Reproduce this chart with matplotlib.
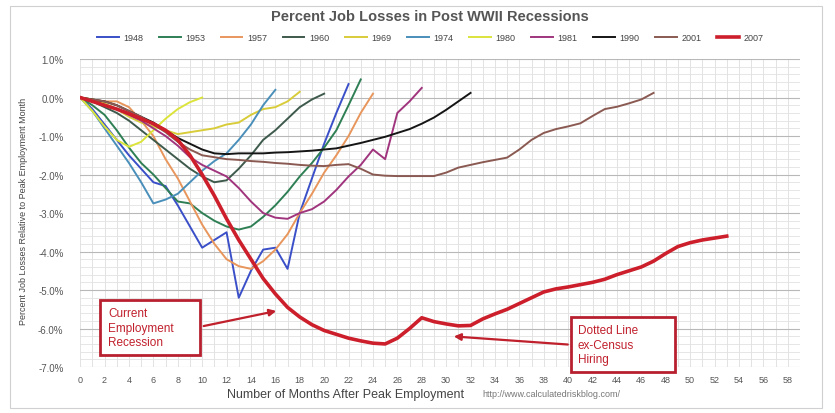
import matplotlib.pyplot as plt
from matplotlib.patches import Rectangle
from matplotlib.ticker import MultipleLocator, FuncFormatter

plt.rcParams['font.family'] = ['Liberation Sans', 'DejaVu Sans']

# percent change in payroll employment vs. the peak month, one list per recession
r1948 = [0, -0.3, -0.7, -1.1, -1.5, -1.85, -2.2, -2.3, -2.8, -3.35, -3.9, -3.7,
         -3.5, -5.2, -4.5, -3.95, -3.9, -4.45, -3.0, -2.1, -1.2, -0.4, 0.35]
r1953 = [0, -0.2, -0.45, -0.85, -1.3, -1.7, -2.0, -2.35, -2.7, -2.75, -3.0, -3.2,
         -3.35, -3.43, -3.35, -3.1, -2.8, -2.45, -2.05, -1.7, -1.3, -0.85, -0.2, 0.47]
r1957 = [0, -0.05, -0.1, -0.1, -0.25, -0.6, -1.0, -1.6, -2.1, -2.7, -3.3, -3.8,
         -4.2, -4.38, -4.45, -4.25, -3.95, -3.55, -3.0, -2.5, -1.95, -1.5, -1.0,
         -0.4, 0.1]
r1960 = [0, -0.1, -0.25, -0.4, -0.6, -0.85, -1.1, -1.35, -1.6, -1.85, -2.05, -2.2,
         -2.15, -1.85, -1.5, -1.1, -0.85, -0.55, -0.25, -0.05, 0.1]
r1969 = [0, -0.05, -0.15, -0.3, -0.5, -0.65, -0.75, -0.85, -0.95, -0.9, -0.85,
         -0.8, -0.7, -0.65, -0.45, -0.3, -0.25, -0.1, 0.15]
r1974 = [0, -0.35, -0.8, -1.25, -1.7, -2.2, -2.75, -2.65, -2.5, -2.2, -1.9, -1.65,
         -1.45, -1.1, -0.7, -0.2, 0.2]
r1980 = [0, -0.35, -0.75, -1.1, -1.28, -1.15, -0.85, -0.55, -0.3, -0.12, 0.0]
r1981 = [0, -0.1, -0.2, -0.3, -0.45, -0.6, -0.8, -1.0, -1.25, -1.55, -1.75, -1.9,
         -2.05, -2.35, -2.7, -3.0, -3.12, -3.15, -3.0, -2.9, -2.7, -2.4, -2.05,
         -1.75, -1.35, -1.6, -0.4, -0.1, 0.25]
r1990 = [0, -0.05, -0.1, -0.2, -0.35, -0.5, -0.65, -0.85, -1.05, -1.2, -1.35,
         -1.45, -1.47, -1.45, -1.45, -1.45, -1.43, -1.42, -1.4, -1.38, -1.35,
         -1.32, -1.25, -1.18, -1.1, -1.02, -0.92, -0.82, -0.68, -0.52, -0.32,
         -0.1, 0.12]
r2001 = [0, -0.05, -0.1, -0.2, -0.35, -0.5, -0.7, -0.9, -1.15, -1.35, -1.5, -1.55,
         -1.6, -1.62, -1.65, -1.67, -1.7, -1.72, -1.75, -1.77, -1.78, -1.75,
         -1.73, -1.85, -2.0, -2.03, -2.04, -2.04, -2.04, -2.04, -1.95, -1.82,
         -1.75, -1.68, -1.62, -1.56, -1.35, -1.1, -0.92, -0.82, -0.75, -0.67,
         -0.48, -0.3, -0.24, -0.15, -0.05, 0.12]
r2007 = [0, -0.1, -0.2, -0.3, -0.42, -0.55, -0.68, -0.85, -1.1, -1.5, -2.0, -2.55,
         -3.15, -3.7, -4.2, -4.7, -5.1, -5.45, -5.7, -5.9, -6.05, -6.15, -6.25,
         -6.32, -6.38, -6.4, -6.25, -6.0, -5.72, -5.82, -5.88, -5.93, -5.92,
         -5.75, -5.62, -5.5, -5.35, -5.2, -5.05, -4.97, -4.92, -4.86, -4.8,
         -4.72, -4.6, -4.5, -4.4, -4.25, -4.05, -3.87, -3.77, -3.7, -3.65, -3.6]

labels = ['1948', '1953', '1957', '1960', '1969', '1974', '1980', '1981',
          '1990', '2001', '2007']
series = [r1948, r1953, r1957, r1960, r1969, r1974, r1980, r1981, r1990, r2001, r2007]
colors = ['#3a4fc8', '#2f7f55', '#e8965c', '#3e5a4c', '#d8cc3a', '#4a8fba',
          '#dce43c', '#a0357e', '#151515', '#8a5a52', '#cc1f2b']

W, H = 835, 414
fig = plt.figure(figsize=(W / 100, H / 100), dpi=100)
ax = fig.add_axes([0.096, 0.111, 0.862, 0.744])

for lab, vals, col in zip(labels, series, colors):
    lw = 2.6 if lab == '2007' else 1.4
    ax.plot(range(len(vals)), vals, color=col, lw=lw, label=lab,
            zorder=4 if lab == '2007' else 3)

ax.set_xlim(0, 59)
ax.set_ylim(-7.0, 1.0)
ax.xaxis.set_major_locator(MultipleLocator(2))
ax.xaxis.set_minor_locator(MultipleLocator(1))
ax.yaxis.set_major_locator(MultipleLocator(1))
ax.yaxis.set_minor_locator(MultipleLocator(0.2))
ax.yaxis.set_major_formatter(FuncFormatter(lambda v, p: '%.1f%%' % v))
ax.grid(which='major', axis='y', color='#b8b8b8', lw=0.8)
ax.grid(which='minor', axis='y', color='#e2e2e2', lw=0.6)
ax.grid(which='both', axis='x', color='#dedede', lw=0.6)
ax.set_axisbelow(True)
for s in ax.spines.values():
    s.set_visible(False)
ax.tick_params(which='both', length=0, colors='#555555')
ax.tick_params(axis='y', labelsize=7, pad=12)
ax.tick_params(axis='x', labelsize=6.5, pad=6)

# axis titles, placed in figure fractions
fig.text(227 / W, 1 - 395 / H, 'Number of Months After Peak Employment',
         fontsize=9, color='#444444', ha='left', va='center')
fig.text(482 / W, 1 - 395 / H, 'http://www.calculatedriskblog.com/',
         fontsize=6.5, color='#777777', ha='left', va='center')
fig.text(0.028, 0.49, 'Percent Job Losses Relative to Peak Employment Month',
         rotation=90, fontsize=6.5, color='#444444', ha='center', va='center')

fig.suptitle('Percent Job Losses in Post WWII Recessions', x=430 / W, y=0.975,
             fontsize=10.5, color='#555555', fontweight='bold')
ax.legend(loc='lower center', bbox_to_anchor=(0.486, 1.03), ncol=11, frameon=False,
          fontsize=6.5, handlelength=2.4, columnspacing=1.75, handletextpad=0.5,
          labelcolor='#444444')

# callout boxes drawn in data units
red = '#c0202c'
for x0, x1, y0, y1 in [(1.64, 9.84, -6.68, -5.25), (40.2, 48.8, -7.12, -5.69)]:
    ax.add_patch(Rectangle((x0, y0), x1 - x0, y1 - y0, fc='white', ec='#b82030',
                           lw=2.0, zorder=6, clip_on=False))
ax.text(2.3, -5.98, 'Current\nEmployment\nRecession', fontsize=8.5, color=red,
        va='center', ha='left', linespacing=1.3, zorder=7)
ax.text(40.8, -6.42, 'Dotted Line\nex-Census\nHiring', fontsize=8.5, color=red,
        va='center', ha='left', linespacing=1.3, zorder=7, clip_on=False)
arrow = dict(arrowstyle='-|>', color=red, lw=1.6, mutation_scale=10)
ax.annotate('', xy=(16.3, -5.53), xytext=(9.9, -5.95), arrowprops=arrow, zorder=6)
ax.annotate('', xy=(30.4, -6.2), xytext=(40.2, -6.42), arrowprops=arrow, zorder=6)

fig.patches.append(Rectangle((0.012, 0.012), 0.972, 0.972, transform=fig.transFigure,
                             fill=False, ec='#d0d0d0', lw=0.8))

fig.savefig('out.png', dpi=100)
